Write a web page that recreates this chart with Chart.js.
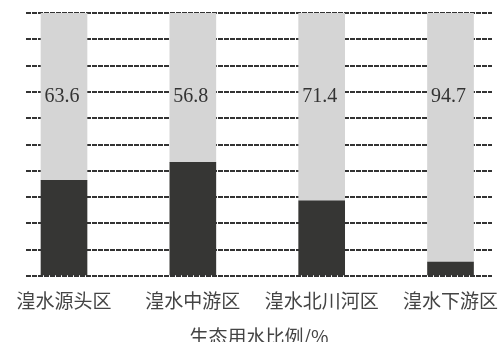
<!DOCTYPE html>
<html>
<head>
<meta charset="utf-8">
<script src="https://cdn.jsdelivr.net/npm/chart.js@4/dist/chart.umd.min.js"></script>
<style>
html,body{margin:0;padding:0;background:#fff;}
#wrap{width:501px;height:342px;}
</style>
</head>
<body>
<div id="wrap"><canvas id="c" width="501" height="342"></canvas></div>
<script>
const categories = ['湟水源头区', '湟水中游区', '湟水北川河区', '湟水下游区'];
const darkValues = [36.4, 43.2, 28.6, 5.3];
const lightValues = [63.6, 56.8, 71.4, 94.7];
const lightLabels = ['63.6', '56.8', '71.4', '94.7'];
const axisTitle = '生态用水比例/%';

const toPoints = arr => arr.map((v, i) => ({x: i, y: v}));

const labelPlugin = {
  id: 'barLabels',
  afterDatasetsDraw(chart) {
    const meta = chart.getDatasetMeta(1);
    const ctx = chart.ctx;
    const yPix = chart.scales.y.getPixelForValue(68);
    ctx.save();
    ctx.font = '20px "Liberation Serif", "DejaVu Serif", serif';
    ctx.fillStyle = '#333';
    ctx.textAlign = 'center';
    ctx.textBaseline = 'middle';
    meta.data.forEach((el, i) => {
      ctx.fillText(lightLabels[i], el.x - 2, yPix);
    });
    ctx.restore();
  }
};

new Chart(document.getElementById('c'), {
  type: 'bar',
  data: {
    datasets: [
      {data: toPoints(darkValues), backgroundColor: '#363634', stack: 's', barThickness: 46},
      {data: toPoints(lightValues), backgroundColor: '#d5d5d5', stack: 's', barThickness: 46}
    ]
  },
  options: {
    responsive: false,
    animation: false,
    layout: {padding: {left: 26, right: 9, top: 13, bottom: 0}},
    plugins: {legend: {display: false}, tooltip: {enabled: false}},
    scales: {
      x: {
        type: 'linear',
        min: -0.295,
        max: 3.322,
        offset: false,
        stacked: true,
        afterBuildTicks: axis => { axis.ticks = categories.map((c, i) => ({value: i})); },
        afterFit: axis => { axis.paddingLeft = 0; axis.paddingRight = 0; },
        grid: {display: false, drawTicks: false},
        border: {display: false},
        ticks: {
          autoSkip: false,
          maxRotation: 0,
          padding: 15,
          color: '#444',
          font: {family: '"Noto Sans CJK SC", sans-serif', size: 19, lineHeight: 1},
          callback: v => categories[v] || ''
        },
        title: {
          display: true,
          text: axisTitle,
          color: '#444',
          font: {family: '"Noto Sans CJK SC", sans-serif', size: 19, lineHeight: 0.5},
          padding: {top: 7.5, bottom: 0}
        }
      },
      y: {
        stacked: true,
        min: 0,
        max: 100,
        ticks: {display: false, stepSize: 10},
        border: {display: false, dash: [5, 1]},
        grid: {color: '#333', lineWidth: 2, drawTicks: false}
      }
    }
  },
  plugins: [labelPlugin]
});
</script>
</body>
</html>
